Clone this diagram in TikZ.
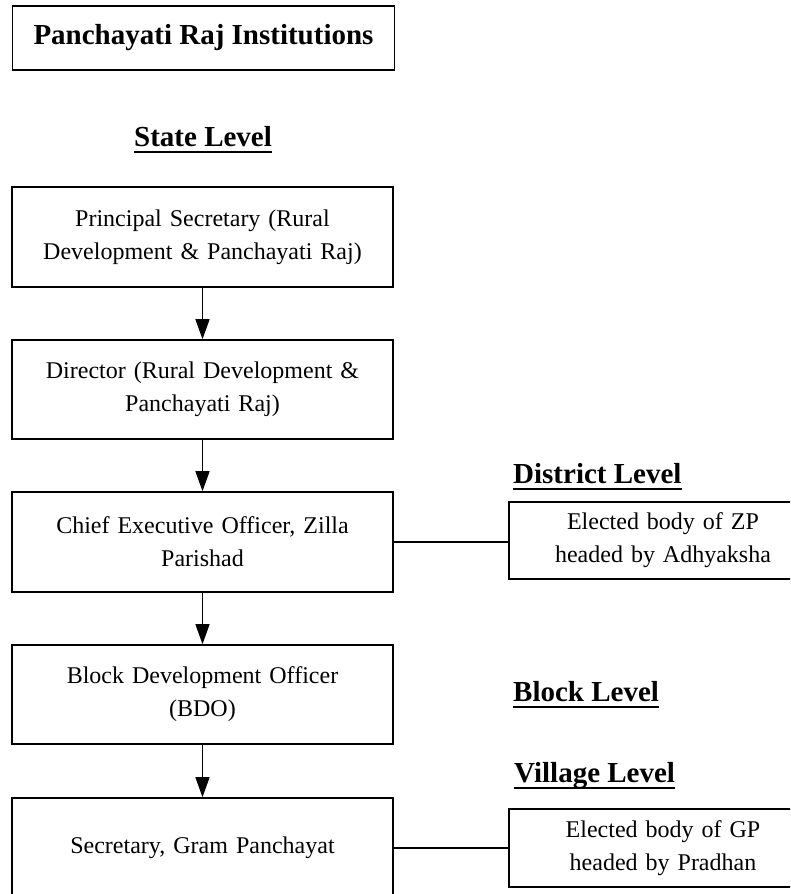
\documentclass[tikz,border=0pt]{standalone}
\usepackage{fontspec}
\setmainfont{Liberation Serif}
\usetikzlibrary{arrows.meta}
\begin{document}
\begin{tikzpicture}[x=1pt,y=-1pt,
  box/.style={draw, line width=1.6pt, minimum width=381pt, minimum height=100pt,
    align=center, text width=370pt, inner sep=0pt, font=\fontsize{24}{33}\selectfont},
  rbox/.style={draw, line width=1.6pt, minimum width=308pt, minimum height=77pt,
    align=center, text width=300pt, inner sep=0pt, font=\fontsize{24}{33}\selectfont},
  lvl/.style={anchor=base west, inner sep=0pt, font=\fontsize{29}{34}\selectfont\bfseries},
  arr/.style={line width=1.4pt, -{Triangle[width=14pt,length=20pt]}},
  conn/.style={line width=1.4pt}]
\clip (0,0) rectangle (790,894);
\fill[white] (0,0) rectangle (790,894);

\node[draw, line width=1.6pt, minimum width=382pt, minimum height=64pt, inner sep=0pt,
  font=\fontsize{29}{34}\selectfont\bfseries] (title) at (203.5,38) {Panchayati Raj Institutions};

\node[lvl] (state) at (134,146) {State Level};
\node[lvl] (district) at (513,483) {District Level};
\node[lvl] (block) at (513,701) {Block Level};
\node[lvl] (village) at (514,782) {Village Level};
\foreach \n in {state,district,block,village}
  \draw[line width=2pt] ([yshift=-5.5pt]\n.base west) -- ([yshift=-5.5pt]\n.base east);

\node[box] (b1) at (202.5,237) {Principal Secretary (Rural\\Development \& Panchayati Raj)};
\node[box, minimum height=99pt] (b2) at (202.5,389.5) {Director (Rural Development \&\\Panchayati Raj)};
\node[box] (b3) at (202.5,542) {Chief Executive Officer, Zilla\\Parishad};
\node[box, minimum height=99pt] (b4) at (202.5,694.5) {Block Development Officer\\(BDO)};
\node[box] (b5) at (202.5,848) {Secretary, Gram Panchayat};

\node[rbox] (r1) at (663,540.5) {Elected body of ZP\\headed by Adhyaksha};
\node[rbox, minimum height=78pt] (r2) at (663,848) {Elected body of GP\\headed by Pradhan};

\draw[arr] (b1) -- (b2);
\draw[arr] (b2) -- (b3);
\draw[arr] (b3) -- (b4);
\draw[arr] (b4) -- (b5);
\draw[conn] (b3.east) -- (b3.east -| r1.west);
\draw[conn] (b5.east) -- (b5.east -| r2.west);
\end{tikzpicture}
\end{document}
